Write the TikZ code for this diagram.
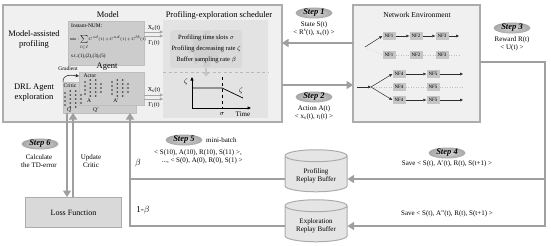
\documentclass[tikz,border=0pt]{standalone}
\usepackage{fontspec}
\setmainfont{Liberation Serif}
\usetikzlibrary{arrows.meta, shapes.geometric, positioning}

% small fully connected net, drawn around (#1,#2)
\newcommand{\dnnet}[2]{%
  \begin{scope}[shift={(#1,#2)}]
    \foreach \ya in {-6,-2,2,6} \foreach \yb in {-8,-4,0,4,8}
      \draw[gray!45, line width=0.15pt] (-8,\ya) -- (-2.7,\yb);
    \foreach \ya in {-8,-4,0,4,8} \foreach \yb in {-8,-4,0,4,8}
      \draw[gray!45, line width=0.15pt] (-2.7,\ya) -- (2.7,\yb);
    \foreach \ya in {-8,-4,0,4,8} \foreach \yb in {-4,0,4}
      \draw[gray!45, line width=0.15pt] (2.7,\ya) -- (8,\yb);
    \foreach \yy in {-6,-2,2,6} \fill[gray!40!black] (-8,\yy) circle (0.9);
    \foreach \yy in {-8,-4,0,4,8} \fill[gray!40!black] (-2.7,\yy) circle (0.9);
    \foreach \yy in {-8,-4,0,4,8} \fill[gray!40!black] (2.7,\yy) circle (0.9);
    \foreach \yy in {-4,0,4} \fill[gray!40!black] (8,\yy) circle (0.9);
  \end{scope}}

\tikzset{
  panel/.style={draw=gray!65, line width=1.2pt, fill=gray!12, inner sep=0pt, outer sep=0pt, anchor=north west},
  subpanel/.style={fill=gray!22, inner sep=0pt, outer sep=0pt, anchor=north west},
  graybox/.style={draw=gray!50, line width=0.4pt, fill=gray!40, inner sep=0pt, outer sep=0pt, anchor=north west},
  flow/.style={draw=gray!75, line width=2.4pt, -{Triangle[width=8pt,length=6.5pt]}},
  flowline/.style={draw=gray!75, line width=2.4pt},
  thinarr/.style={draw=gray!70, line width=0.6pt, -{Triangle[width=3.2pt,length=3.2pt]}},
  stepe/.style={ellipse, inner sep=0pt, minimum width=37pt, minimum height=11pt,
    inner color=gray!30, outer color=gray!70, font=\fontsize{8.5}{8.5}\selectfont\bfseries\itshape},
  lbl/.style={font=\fontsize{7}{8.5}\selectfont, align=center, inner sep=0pt},
  title/.style={font=\fontsize{8.5}{10}\selectfont, align=center, inner sep=0pt},
  nf/.style={fill=gray!45, font=\fontsize{5}{5}\selectfont, inner sep=0pt, minimum width=13pt, minimum height=8pt},
  nfarr/.style={draw=gray!35!black, line width=0.5pt, -{Triangle[width=2.6pt,length=3pt]}},
  nfdot/.style={draw=gray!50, line width=0.5pt, dotted},
  buf/.style={cylinder, shape border rotate=90, aspect=0.3, draw=gray!65, line width=1pt,
    fill=gray!20, minimum width=62pt, minimum height=42pt, align=center,
    font=\fontsize{7}{8}\selectfont, inner sep=0pt},
}

\begin{document}
\begin{tikzpicture}[x=1pt, y=-1pt]
    \useasboundingbox (0,0) rectangle (551,246);

    % ==========================================
    % OUTER PANELS
    % ==========================================
    \node[panel, minimum width=279pt, minimum height=117pt] (leftbox) at (3,5) {};
    \node[panel, minimum width=127pt, minimum height=117pt] (netenv) at (353,5) {};

    % ==========================================
    % MODEL AND AGENT
    % ==========================================
    \node[lbl, font=\fontsize{8.5}{10}\selectfont] (mapl) at (34,39) {Model-assisted\\profiling};
    \node[lbl, font=\fontsize{8.5}{10}\selectfont] (drll) at (34,93) {DRL Agent\\exploration};

    \node[title] (modt) at (108,15) {Model};
    \node[graybox, minimum width=76pt, minimum height=44pt] (model) at (68,21) {};
    \node[lbl, font=\fontsize{5.5}{6}\selectfont, anchor=west] (inum) at (71,26) {Instant-NUM:};
    \node[lbl, font=\fontsize{5}{6}\selectfont, anchor=west] (obj) at (70,42.5)
        {\scalebox{0.78}{$\min:\!\sum\limits_{l\in I}\!C^{sd}(t)\!+\!C^{ud}(t)\!+\!C^{lb}(t)$}};
    \node[lbl, font=\fontsize{5}{6}\selectfont, anchor=west] (cons) at (71,56) {s.t.:(1),(2),(3),(5)};

    \node[title] (agt) at (107,67) {Agent};
    \node[graybox, minimum width=73pt, minimum height=31pt] (critic) at (63,82) {};
    \node[graybox, minimum width=65pt, minimum height=33pt] (actor) at (79,72) {};
    \dnnet{93}{88}
    \dnnet{120}{88}
    \dnnet{73}{99}
    \node[lbl, font=\fontsize{5.5}{6}\selectfont] (actl) at (90,76) {Actor};
    \node[lbl, font=\fontsize{5.5}{6}\selectfont] (crtl) at (70,86) {Critic};
    \node[lbl, font=\fontsize{5.5}{6}\selectfont] (al) at (89,101) {A};
    \node[lbl, font=\fontsize{5.5}{6}\selectfont] (apl) at (116,101) {A'};
    \node[lbl, font=\fontsize{5.5}{6}\selectfont] (ql) at (69,110) {Q};
    \node[lbl, font=\fontsize{5.5}{6}\selectfont] (qpl) at (96,110) {Q'};

    % gradient from critic to actor
    \node[lbl, font=\fontsize{5.5}{6}\selectfont] (gradl) at (68,69) {Gradient};
    \draw[thinarr, draw=gray!40!black] (critic.north west) .. controls (63,74) and (70,75) .. (actor.west |- 0,76);

    % ==========================================
    % PROFILING-EXPLORATION SCHEDULER
    % ==========================================
    \node[title] (scht) at (219,15) {Profiling-exploration scheduler};
    \node[subpanel, minimum width=105pt, minimum height=98pt] (sched) at (163,20) {};
    \node[fill=gray!30, rounded corners=3pt, minimum width=72pt, minimum height=38pt,
          inner sep=0pt, anchor=north west] (params) at (170,30) {};
    % gear behind the parameters
    \fill[gray!38] (params.center) circle (14);
    \foreach \a in {0,45,...,315}
      \fill[gray!38, rotate around={\a:(params.center)}] ([xshift=-3.5pt, yshift=13pt]params.center) rectangle ([xshift=3.5pt, yshift=18pt]params.center);
    \node[lbl, font=\fontsize{6.5}{11}\selectfont] (ptxt) at (params.center)
        {Profiling time slots $\sigma$\\Profiling decreasing rate $\zeta$\\Buffer sampling rate $\beta$};
    \draw[gray!45, line width=2.5pt, -{Triangle[width=6pt,length=3.5pt]}] (params.south) -- ++(0,8);
    \draw[dashed, gray!55, line width=0.8pt, dash pattern=on 3pt off 2.5pt] (sched.west |- 0,72) -- (sched.east |- 0,72);

    % decreasing rate over time
    \coordinate (org) at (192,108);
    \draw[line width=0.7pt, -{Triangle[width=3pt,length=3.5pt]}] (org) -- (192,77);
    \draw[line width=0.7pt, -{Triangle[width=3pt,length=3.5pt]}] (org) -- (251,108);
    \draw[line width=0.7pt] (192,88) -- (222,88) -- (243,98);
    \draw[dashed, line width=0.7pt] (222,77) -- (222,108);
    \node[lbl] (zy) at (186,82) {$\zeta$};
    \node[lbl] (zc) at (241,91) {$\zeta$};
    \node[lbl] (sx) at (222,114) {$\sigma$};
    \node[lbl] (tx) at (243,114) {Time};

    % model / agent outputs
    \draw[thinarr] (model.east |- 0,32) -- (sched.west |- 0,32);
    \draw[thinarr] (model.east |- 0,36) -- (sched.west |- 0,36);
    \node[lbl, font=\fontsize{6}{6}\selectfont] (mx) at (154,28) {X\textsubscript{s}(t)};
    \node[lbl, font=\fontsize{6}{6}\selectfont] (mg) at (154,43) {Γ\textsubscript{l}(t)};
    \draw[thinarr] (actor.east |- 0,95) -- (sched.west |- 0,95);
    \draw[thinarr] (actor.east |- 0,99) -- (sched.west |- 0,99);
    \node[lbl, font=\fontsize{6}{6}\selectfont] (ax) at (154,90) {X\textsubscript{s}(t)};
    \node[lbl, font=\fontsize{6}{6}\selectfont] (ag) at (154,105) {Γ\textsubscript{l}(t)};

    % ==========================================
    % NETWORK ENVIRONMENT
    % ==========================================
    \node[lbl, font=\fontsize{7.5}{9}\selectfont] (nett) at (417,15) {Network Environment};
    \node[nf] (a1) at (389,36) {NF1};
    \node[nf] (a2) at (416,36) {NF2};
    \node[nf] (a3) at (442,36) {NF3};
    \node[nf] (b1) at (389,55) {NF1};
    \node[nf] (b2) at (416,55) {NF2};
    \node[nf] (b3) at (442,55) {NF3};
    \node[nf] (c4) at (399,74) {NF4};
    \node[nf] (c5) at (433,74) {NF5};
    \node[nf] (d4) at (399,87) {NF4};
    \node[nf] (d5) at (433,87) {NF5};
    \node[nf] (e4) at (399,100) {NF4};
    \node[nf] (e5) at (433,100) {NF5};
    \coordinate (fork1) at (365,47);
    \coordinate (inp) at (357,87);
    \coordinate (fork2) at (371,87);

    \draw[nfarr] (fork1) -- (a1.west);
    \draw[nfdot] (fork1) -- (b1.west);
    \draw[nfarr] (a1) -- (a2);
    \draw[nfarr] (a2) -- (a3);
    \draw[nfarr] (a3) -- ++(17,0);
    \draw[nfdot] (b1) -- (b2) -- (b3) -- ++(17,0);
    \draw[nfarr] (inp) -- (fork2);
    \draw[nfarr] (fork2) -- (c4.west);
    \draw[nfdot] (fork2) -- (d4.west);
    \draw[nfarr] (fork2) -- (e4.west);
    \draw[nfarr] (c4) -- (c5);
    \draw[nfarr] (e4) -- (e5);
    \draw[nfarr] (c5) -- ++(30,0);
    \draw[nfarr] (e5) -- ++(30,0);
    \draw[nfdot] (d4) -- (d5) -- ++(30,0);

    % ==========================================
    % STEPS 1-3
    % ==========================================
    \draw[flow] (netenv.west |- 0,43) -- (leftbox.east |- 0,43);
    \node[stepe] (s1) at (314,13) {Step 1};
    \node[lbl] (s1t) at (314,29) {State S(t)\\< R\textsuperscript{s}(t), x\textsubscript{s}(t) >};

    \draw[flow] (leftbox.east |- 0,85) -- (netenv.west |- 0,85);
    \node[stepe] (s2) at (314,97) {Step 2};
    \node[lbl] (s2t) at (314,113) {Action A(t)\\< x\textsubscript{s}(t), r\textsubscript{l}(t) >};

    \node[stepe] (s3) at (512,28) {Step 3};
    \node[lbl] (s3t) at (512,44) {Reward R(t)\\< U(t) >};

    % ==========================================
    % REPLAY BUFFERS
    % ==========================================
    \node[buf] (pbuf) at (316,174) {\\Profiling\\Replay Buffer};
    \node[buf] (ebuf) at (316,224) {\\Exploration\\Replay Buffer};

    \coordinate (rc) at (545,62);
    \draw[flow] (netenv.east |- rc) -- (rc) -- (rc |- 0,226) -- (ebuf.east |- 0,226);
    \draw[flow] (rc |- 0,179) -- (pbuf.east |- 0,179);
    \node[stepe] (s4) at (447,153) {Step 4};
    \node[lbl] (s4t) at (447,164) {Save < S(t), A'(t), R(t), S(t+1) >};
    \node[lbl] (s4u) at (447,214) {Save < S(t), A''(t), R(t), S(t+1) >};

    % ==========================================
    % MINI-BATCH BACK TO THE AGENT
    % ==========================================
    \draw[flowline] (pbuf.west |- 0,179) -- (130,179);
    \draw[flow] (ebuf.west |- 0,226) -| (critic.south -| 130,0);
    \node[lbl, font=\fontsize{9}{9}\selectfont] (bl) at (138,163) {$\beta$};
    \node[lbl, font=\fontsize{9}{9}\selectfont] (obl) at (143,210) {1-$\beta$};
    \node[stepe] (s5) at (184,140) {Step 5};
    \node[lbl, anchor=west] (mbt) at (206,140) {mini-batch};
    \node[lbl] (mbl) at (198,157) {< S(10), A(10), R(10), S(11) >,\\\hspace*{1.2em}..., < S(0), A(0), R(0), S(1) >};

    % ==========================================
    % LOSS FUNCTION
    % ==========================================
    \node[draw=gray!65, line width=1pt, fill=gray!30, minimum width=96pt, minimum height=30pt,
          inner sep=0pt, anchor=north west, font=\fontsize{8}{9}\selectfont] (loss) at (25,197) {Loss Function};
    \draw[flow] (critic.south -| 67,0) -- (loss.north -| 67,0);
    \draw[flow] (loss.north -| 73,0) -- (critic.south -| 73,0);
    \node[stepe] (s6) at (40,144) {Step 6};
    \node[lbl] (s6t) at (39,161) {Calculate\\the TD-error};
    \node[lbl] (uct) at (91,161) {Update\\Critic};

\end{tikzpicture}
\end{document}
